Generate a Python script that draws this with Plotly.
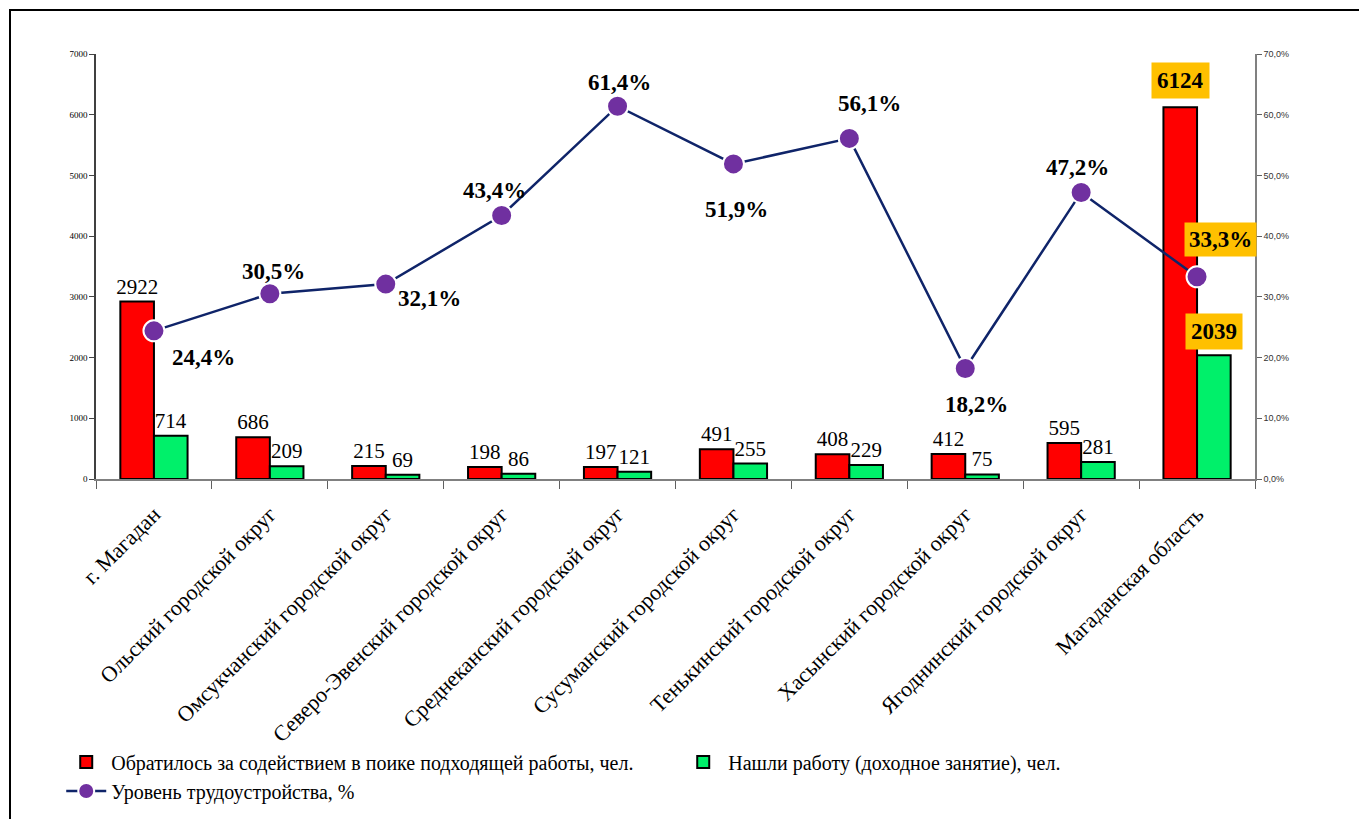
import plotly.graph_objs as go

categories = [
    "г. Магадан",
    "Ольский городской округ",
    "Омсукчанский городской округ",
    "Северо-Эвенский городской округ",
    "Среднеканский городской округ",
    "Сусуманский городской округ",
    "Тенькинский городской округ",
    "Хасынский городской округ",
    "Ягоднинский городской округ",
    "Магаданская область",
]
applied = [2922, 686, 215, 198, 197, 491, 408, 412, 595, 6124]
found_job = [714, 209, 69, 86, 121, 255, 229, 75, 281, 2039]
employment_rate = [24.4, 30.5, 32.1, 43.4, 61.4, 51.9, 56.1, 18.2, 47.2, 33.3]

# label offsets (px) for the percent labels relative to their points
pct_shift = [(50, -27), (4, 22), (44, -14), (-7, 25), (2, 24),
             (3, -46), (20, 35), (11, -36), (-4, 25), (23, 37)]

SERIF = "Liberation Serif"
ORANGE = "#FFC000"


def fmt_pct(v):
    return f"{v:.1f}%".replace(".", ",")


fig = go.Figure()
n = len(categories)
fig.add_trace(go.Bar(
    x=categories,
    y=applied,
    name="Обратилось за содействием в поике подходящей работы, чел.",
    marker=dict(color="#FF0000", line=dict(color="black", width=2)),
    text=[str(v) for v in applied[:-1]] + [""],
    textposition="outside",
    constraintext="none",
    cliponaxis=False,
    textfont=dict(family=SERIF, size=21, color="black"),
))
fig.add_trace(go.Bar(
    x=categories,
    y=found_job,
    name="Нашли работу (доходное занятие), чел.",
    marker=dict(color="#00F06A", line=dict(color="black", width=2)),
    text=[str(v) for v in found_job[:-1]] + [""],
    textposition="outside",
    constraintext="none",
    cliponaxis=False,
    textfont=dict(family=SERIF, size=21, color="black"),
))
fig.add_trace(go.Scatter(
    x=categories,
    y=employment_rate,
    yaxis="y2",
    name="Уровень трудоустройства, %",
    mode="lines+markers",
    line=dict(color="#0F2469", width=2.5),
    marker=dict(color="#7030A0", size=21, line=dict(color="white", width=2)),
    cliponaxis=False,
))

annotations = []
for i, (cat, v) in enumerate(zip(categories, employment_rate)):
    dx, dy = pct_shift[i]
    last = i == n - 1
    annotations.append(dict(
        x=cat, y=v, xref="x", yref="y2",
        text=f"<b>{fmt_pct(v)}</b>", showarrow=False,
        xshift=dx, yshift=dy,
        font=dict(family=SERIF, size=23, color="black"),
        bgcolor=ORANGE if last else None,
        borderpad=4 if last else 0,
    ))

# highlighted totals for the region
annotations.append(dict(
    x=categories[-1], y=applied[-1], xref="x", yref="y",
    text=f"<b>{applied[-1]}</b>", showarrow=False,
    xshift=-17, yshift=8, yanchor="bottom",
    font=dict(family=SERIF, size=23, color="black"),
    bgcolor=ORANGE, borderpad=5,
))
annotations.append(dict(
    x=categories[-1], y=found_job[-1], xref="x", yref="y",
    text=f"<b>{found_job[-1]}</b>", showarrow=False,
    xshift=17, yshift=5, yanchor="bottom",
    font=dict(family=SERIF, size=23, color="black"),
    bgcolor=ORANGE, borderpad=5,
))

fig.update_layout(
    width=1367,
    height=819,
    paper_bgcolor="white",
    plot_bgcolor="white",
    separators=", ",
    barmode="group",
    bargap=0.42,
    bargroupgap=0,
    margin=dict(l=88, r=120, t=46, b=348, autoexpand=False),
    font=dict(family=SERIF, color="black"),
    annotations=annotations,
    showlegend=True,
    legend=dict(
        orientation="h",
        x=-0.03, xanchor="left",
        y=-0.62, yanchor="top",
        font=dict(family=SERIF, size=20, color="black"),
        entrywidth=562,
        tracegroupgap=0,
        itemwidth=40,
        traceorder="normal",
    ),
    shapes=[dict(
        type="rect", xref="paper", yref="paper",
        x0=-0.0742, x1=1.2, y0=-1.2, y1=1.1035,
        line=dict(color="black", width=2),
        fillcolor="rgba(0,0,0,0)", layer="below",
    )],
)
fig.update_xaxes(
    range=[-0.5, n - 0.5],
    showline=True, linecolor="#808080", linewidth=1.5,
    ticks="outside", tickson="boundaries", ticklen=8, tickcolor="#606060",
    tickangle=-45, ticklabelstandoff=12,
    tickfont=dict(family=SERIF, size=22, color="black"),
    showgrid=False,
)
fig.update_layout(
    yaxis=dict(
        range=[0, 7000], dtick=1000,
        showline=True, linecolor="#404040", linewidth=1.5,
        ticks="outside", ticklen=5,
        tickfont=dict(family=SERIF, size=9, color="black"),
        showgrid=False, zeroline=False,
    ),
    yaxis2=dict(
        overlaying="y", side="right",
        range=[0, 70], dtick=10, tickformat=".1f", ticksuffix="%",
        showline=True, linecolor="#808080", linewidth=1.5,
        ticks="outside", ticklen=5, tickcolor="#606060",
        tickfont=dict(family="Liberation Sans", size=9, color="#333333"),
        showgrid=False, zeroline=False,
    ),
)

fig.write_html("out.html")
